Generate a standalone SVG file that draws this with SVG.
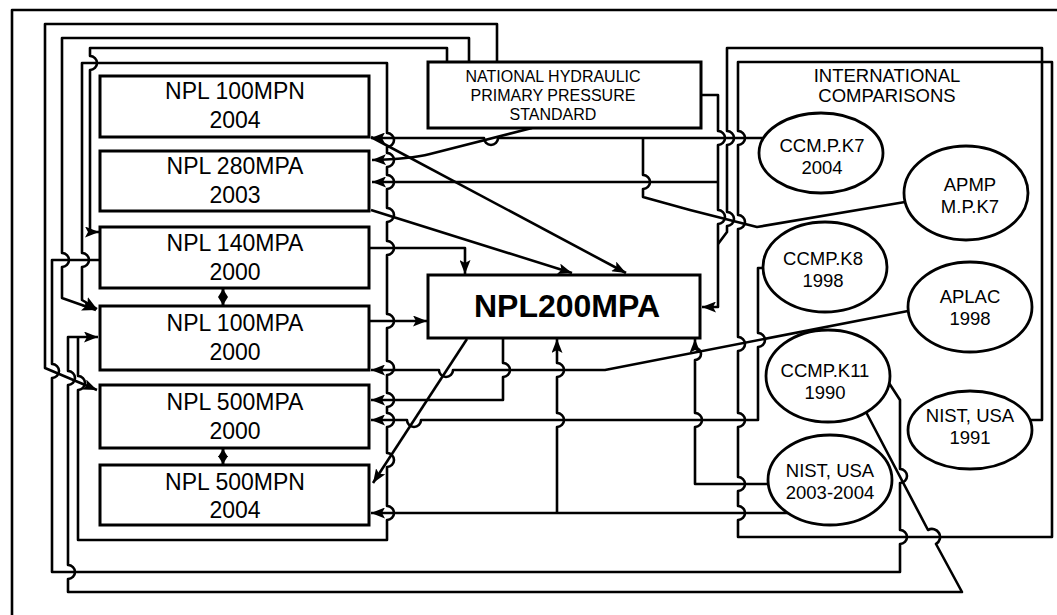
<svg xmlns="http://www.w3.org/2000/svg" width="1057" height="615" viewBox="0 0 1057 615">
<style>
.bx{fill:#fff;stroke:#000;stroke-width:3}
.el{fill:#fff;stroke:#000;stroke-width:2.8}
.ln{fill:none;stroke:#000;stroke-width:2.6;stroke-linejoin:round}
.ar{marker-end:url(#ah)}
.da{fill:none;stroke:#000;stroke-width:3;marker-end:url(#sa)}
.t{font-family:"Liberation Sans",Arial,sans-serif;fill:#000;text-anchor:middle}
.tb{font-size:23px}
.te{font-size:18.5px}
.tn{font-size:16px}
.tm{font-size:32px;font-weight:bold}
</style>
<defs>
<marker id="ah" markerUnits="userSpaceOnUse" markerWidth="14" markerHeight="11" refX="14" refY="5.5" orient="auto">
<path d="M0,0 L14,5.5 L0,11 L3,5.5 z" fill="#000"/>
</marker>
<marker id="sa" markerUnits="userSpaceOnUse" markerWidth="8" markerHeight="10" refX="8" refY="5" orient="auto">
<path d="M0,0 L8,5 L0,10 z" fill="#000"/>
</marker>
</defs>
<rect x="0" y="0" width="1057" height="615" fill="#fff"/>

<g id="connectors">
<path class="ln" d="M12,615 V10 H1057"/>
<path class="ln" d="M738,62 H1052 V537 H738 V520 a7,7 0 0 0 0,-14 V491 a7,7 0 0 0 0,-14 V427 a7,7 0 0 0 0,-14 V351 a7,7 0 0 0 0,-14 V229 a7,7 0 0 0 0,-14 V145 a7,7 0 0 0 0,-14 Z"/>
<path class="ln ar" d="M497,62 V24 H45 V368 L97,390"/>
<path class="ln ar" d="M469,62 V38 H62 V253 a7,7 0 0 1 0,14 V298 L96,310"/>
<path class="ln ar" d="M447,62 V48 H90 V56 a7,7 0 0 1 0,14 V232 H99"/>
<path class="ln ar" d="M78,337 V376 a7,7 0 0 1 0,14 V540 H387 V520 a7,7 0 0 0 0,-14 V467 a7,7 0 0 0 0,-14 V427 a7,7 0 0 0 0,-14 V407 a7,7 0 0 0 0,-14 V375 a7,7 0 0 0 0,-14 V328 a7,7 0 0 0 0,-14 V255 a7,7 0 0 0 0,-14 V222 a7,7 0 0 0 0,-14 V189 a7,7 0 0 0 0,-14 V167 a7,7 0 0 0 0,-14 V147 a7,7 0 0 0 0,-14 V63 H82 V253 a7,7 0 0 1 0,14 V300 L97,309"/>
<path class="ln" d="M100,260 H52 V364 a7,7 0 0 1 0,14 V572 H900 V544 a7,7 0 0 0 0,-14 V483 a7,7 0 0 0 0,-14 V400 L889,383"/>
<path class="ln ar" d="M866,412 L928,530 A7,7 0 0 1 936,544 L962,592 H68 V579 a7,7 0 0 0 0,-14 V385 a7,7 0 0 0 0,-14 V337 H98"/>
<path class="ln" d="M1030,420 H1042 V48 H727 V131 a7,7 0 0 1 0,14 V212 a7,7 0 0 1 0,14 V232 L718,244"/>
<path class="ln ar" d="M701,95 H718 V131 a7,7 0 0 1 0,14 V210 a7,7 0 0 1 0,14 V307 H702"/>
<path class="ln ar" d="M718,182 H372"/>
<path class="ln ar" d="M763,138 H498 a7,7 0 0 1 -14,0 H371"/>
<path class="ln" d="M905,202 L757,227 L690,210 L643,197 V189 a7,7 0 0 0 0,-14 V138"/>
<path class="ln ar" d="M532,128 L430,154 Q410,159 372,160"/>
<path class="ln ar" d="M371,137 L626,273"/>
<path class="ln ar" d="M371,210 L572,273"/>
<path class="ln ar" d="M369,248 H465 V274"/>
<path class="ln ar" d="M369,321 H427"/>
<path class="ln ar" d="M908,311 L605,370 H453 a7,7 0 0 1 -14,0 H371"/>
<path class="ln ar" d="M503,339 V363 a7,7 0 0 1 0,14 V400 H371"/>
<path class="ln ar" d="M467,339 L373,483"/>
<path class="ln ar" d="M763,268 H758 V333 a7,7 0 0 1 0,14 V420 H421 a7,7 0 0 1 -14,0 H371"/>
<path class="ln ar" d="M789,513 H371"/>
<path class="ln ar" d="M557,513 V427 a7,7 0 0 0 0,-14 V377 a7,7 0 0 0 0,-14 V339"/>
<path class="ln ar" d="M768,484 H695 V427 a7,7 0 0 0 0,-14 V360 a6,6 0 0 0 0,-12 V339"/>
<path class="da" d="M223,297 V289"/>
<path class="da" d="M223,297 V305"/>
<path class="da" d="M223,456 V449"/>
<path class="da" d="M223,456 V464"/>
</g>

<g id="npl100mpn"><rect class="bx" x="100" y="76" width="269" height="61"/>
<text class="t tb" x="235" y="99">NPL 100MPN</text><text class="t tb" x="235" y="128">2004</text></g>
<g id="npl280mpa"><rect class="bx" x="100" y="151" width="269" height="60"/>
<text class="t tb" x="235" y="174">NPL 280MPA</text><text class="t tb" x="235" y="203">2003</text></g>
<g id="npl140mpa"><rect class="bx" x="100" y="227" width="269" height="61"/>
<text class="t tb" x="235" y="251">NPL 140MPA</text><text class="t tb" x="235" y="280">2000</text></g>
<g id="npl100mpa"><rect class="bx" x="100" y="306" width="269" height="64"/>
<text class="t tb" x="235" y="331">NPL 100MPA</text><text class="t tb" x="235" y="360">2000</text></g>
<g id="npl500mpa"><rect class="bx" x="100" y="385" width="269" height="63"/>
<text class="t tb" x="235" y="410">NPL 500MPA</text><text class="t tb" x="235" y="439">2000</text></g>
<g id="npl500mpn"><rect class="bx" x="100" y="465" width="269" height="60"/>
<text class="t tb" x="235" y="490">NPL 500MPN</text><text class="t tb" x="235" y="518">2004</text></g>

<g id="nhpps"><rect class="bx" x="428" y="62" width="273" height="66"/>
<text class="t tn" x="553" y="82">NATIONAL HYDRAULIC</text>
<text class="t tn" x="553" y="101">PRIMARY PRESSURE</text>
<text class="t tn" x="553" y="120">STANDARD</text></g>

<g id="npl200mpa"><rect class="bx" x="428" y="275" width="272" height="63"/>
<text class="t tm" x="567" y="317">NPL200MPA</text></g>

<g id="intl"><text class="t te" x="887" y="82">INTERNATIONAL</text>
<text class="t te" x="887" y="102">COMPARISONS</text></g>

<g id="ccmpk7"><ellipse class="el" cx="821" cy="153" rx="62" ry="40"/>
<text class="t te" x="822" y="152">CCM.P.K7</text><text class="t te" x="822" y="174">2004</text></g>
<g id="apmp"><ellipse class="el" cx="966" cy="193" rx="62" ry="47"/>
<text class="t te" x="970" y="191">APMP</text><text class="t te" x="970" y="213">M.P.K7</text></g>
<g id="ccmpk8"><ellipse class="el" cx="825" cy="267" rx="62" ry="45"/>
<text class="t te" x="823" y="265">CCMP.K8</text><text class="t te" x="823" y="287">1998</text></g>
<g id="aplac"><ellipse class="el" cx="970" cy="307" rx="62" ry="45"/>
<text class="t te" x="970" y="303">APLAC</text><text class="t te" x="970" y="325">1998</text></g>
<g id="ccmpk11"><ellipse class="el" cx="828" cy="376" rx="62" ry="46"/>
<text class="t te" x="825" y="377">CCMP.K11</text><text class="t te" x="825" y="399">1990</text></g>
<g id="nist1991"><ellipse class="el" cx="970" cy="430" rx="62" ry="39"/>
<text class="t te" x="970" y="422">NIST, USA</text><text class="t te" x="970" y="444">1991</text></g>
<g id="nist2003"><ellipse class="el" cx="830" cy="480" rx="62" ry="45"/>
<text class="t te" x="830" y="477">NIST, USA</text><text class="t te" x="830" y="499">2003-2004</text></g>
</svg>
